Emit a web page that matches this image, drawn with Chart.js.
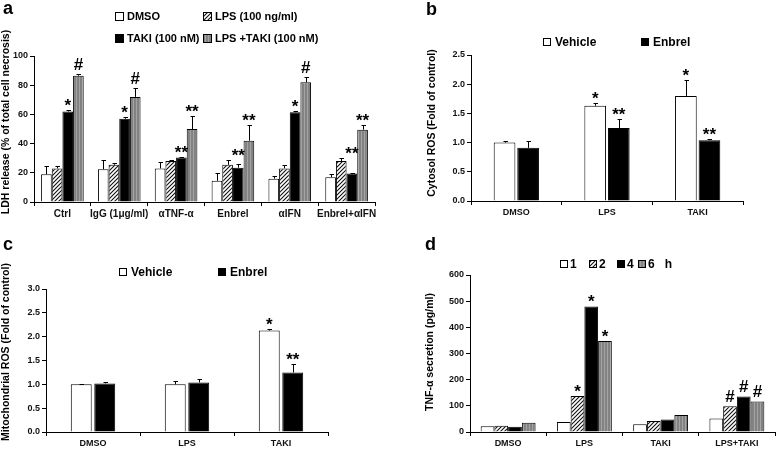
<!DOCTYPE html>
<html><head><meta charset="utf-8">
<script src="https://cdn.jsdelivr.net/npm/chart.js@4.4.1/dist/chart.umd.min.js"></script>
<style>
html,body{margin:0;padding:0;background:#fff;}
body{width:778px;height:453px;position:relative;overflow:hidden;}
.p{position:absolute;}
</style></head><body>
<div class="p" style="left:0;top:0"><canvas id="ca" width="390" height="230"></canvas></div>
<div class="p" style="left:390px;top:0"><canvas id="cb" width="388" height="230"></canvas></div>
<div class="p" style="left:0;top:230px"><canvas id="cc" width="390" height="223"></canvas></div>
<div class="p" style="left:390px;top:230px"><canvas id="cd" width="388" height="223"></canvas></div>
<script>
// ---------- Panel a data ----------
const catsA = ['Ctrl','IgG (1μg/ml)','αTNF-α','Enbrel','αIFN','Enbrel+αIFN'];
const aDMSO = [19,22.5,23,14.5,16,17];
const aDMSOErr = [6,6.5,4.5,5.5,1.5,2];
const aLPS = [23,25.5,28,25.5,23,28];
const aLPSErr = [1.5,1,1,3.5,2.5,2];
const aTAKI = [62,57,30.5,23.5,61.5,19.5];
const aTAKIErr = [1,1.5,0.5,2.5,0.5,0.5];
const aLT = [86.5,72,50,42,82,49.5];
const aLTErr = [1.5,6,9,11,3.5,3.5];
const aTAKIMarks = ['*','*','**','**','*','**'];
const aLTMarks = ['#','#','**','**','#','**'];
const aYTicks = [0,20,40,60,80,100];
// ---------- Panel b data ----------
const catsB = ['DMSO','LPS','TAKI'];
const bVeh = [1.0,1.63,1.80];
const bVehErr = [0.02,0.04,0.28];
const bEnb = [0.91,1.25,1.04];
const bEnbErr = [0.12,0.15,0.02];
const bVehMarks = ['','*','*'];
const bEnbMarks = ['','**','**'];
const bYTicks = [0,0.5,1.0,1.5,2.0,2.5];
// ---------- Panel c data ----------
const catsC = ['DMSO','LPS','TAKI'];
const cVeh = [1.0,1.0,2.13];
const cVehErr = [0.01,0.08,0.03];
const cEnb = [1.02,1.04,1.25];
const cEnbErr = [0.02,0.08,0.18];
const cVehMarks = ['','','*'];
const cEnbMarks = ['','','**'];
const cYTicks = [0,0.5,1.0,1.5,2.0,2.5,3.0];
// ---------- Panel d data ----------
const catsD = ['DMSO','LPS','TAKI','LPS+TAKI'];
const d1h = [22,38,30,52];
const d2h = [24,138,42,98];
const d4h = [20,480,48,136];
const d6h = [35,348,65,117];
const d2Marks = ['','*','','#'];
const d4Marks = ['','*','','#'];
const d6Marks = ['','*','','#'];
const dYTicks = [0,100,200,300,400,500,600];

const FAM = '"Liberation Sans", Arial, sans-serif';

function hatchPattern(){
  const c=document.createElement('canvas'); c.width=4; c.height=4;
  const x=c.getContext('2d');
  x.fillStyle='#fff'; x.fillRect(0,0,4,4);
  x.strokeStyle='#111'; x.lineWidth=1.1;
  x.beginPath();
  x.moveTo(-1,5); x.lineTo(5,-1);
  x.moveTo(-1,1); x.lineTo(1,-1);
  x.moveTo(3,5); x.lineTo(5,3);
  x.stroke();
  return x.createPattern(c,'repeat');
}
function stripePattern(){
  const c=document.createElement('canvas'); c.width=3; c.height=3;
  const x=c.getContext('2d');
  x.fillStyle='#828282'; x.fillRect(0,0,3,3);
  x.fillStyle='#a4a4a4'; x.fillRect(1,0,1,3);
  return x.createPattern(c,'repeat');
}
const HATCH = hatchPattern();
const STRIPE = stripePattern();

const deco = {
  id:'deco',
  afterDatasetsDraw(chart, args, o){
    const ctx=chart.ctx, ys=chart.scales.y;
    ctx.save();
    const tops=[];
    chart.data.datasets.forEach((ds,i)=>{
      const meta=chart.getDatasetMeta(i);
      tops[i]=[];
      meta.data.forEach((bar,j)=>{
        const v=ds.data[j], e=ds.errors?ds.errors[j]:0;
        const t=ys.getPixelForValue(v+e);
        tops[i][j]=t;
        if(e>0){
          const x=Math.round(bar.x)+0.5;
          ctx.strokeStyle='#000'; ctx.lineWidth=1;
          ctx.beginPath();
          ctx.moveTo(x,ys.getPixelForValue(v)); ctx.lineTo(x,Math.round(t)+0.5);
          ctx.moveTo(x-2,Math.round(t)+0.5); ctx.lineTo(x+2.5,Math.round(t)+0.5);
          ctx.stroke();
        }
      });
    });
    ctx.fillStyle='#000'; ctx.textAlign='center'; ctx.textBaseline='alphabetic';
    ctx.font='bold 17px '+FAM;
    chart.data.datasets.forEach((ds,i)=>{
      if(!ds.marks) return;
      const meta=chart.getDatasetMeta(i);
      meta.data.forEach((bar,j)=>{
        const m=ds.marks[j]; if(!m) return;
        let t=tops[i][j];
        if(ds.markWith!==undefined) t=Math.min(t,tops[ds.markWith][j]);
        const off = m.indexOf('#')>=0 ? 5 : 0;
        ctx.fillText(m, bar.x, t+1-off);
      });
    });
    // legend
    if(o.legend){
      ctx.textAlign='left'; ctx.textBaseline='middle';
      ctx.font='bold '+o.legend.size+'px '+FAM;
      chart.data.datasets.forEach((ds,i)=>{
        const it=o.legend.items[i], b=o.legend.box;
        ctx.fillStyle=ds.backgroundColor;
        ctx.fillRect(it[0],it[1],b,b);
        ctx.strokeStyle='#000'; ctx.lineWidth=1;
        ctx.strokeRect(it[0]+0.5,it[1]+0.5,b-1,b-1);
        ctx.fillStyle='#000';
        ctx.fillText(ds.label, it[0]+b+o.legend.gap, it[1]+b/2+0.5);
      });
    }
    // y title
    if(o.ytitle){
      ctx.save();
      ctx.translate(o.ytitle.x,o.ytitle.y);
      ctx.rotate(-Math.PI/2);
      ctx.textAlign='center'; ctx.textBaseline='middle';
      ctx.font='bold '+o.ytitle.size+'px '+FAM;
      ctx.fillStyle='#000';
      ctx.fillText(o.ytitle.text,0,0);
      ctx.restore();
    }
    // panel letter
    if(o.letter){
      ctx.textAlign='left'; ctx.textBaseline='alphabetic';
      ctx.font='bold 18px '+FAM; ctx.fillStyle='#000';
      ctx.fillText(o.letter.text,o.letter.x,o.letter.y);
    }
    ctx.restore();
  }
};

function opts(p){
  return {
    responsive:false, animation:false,
    layout:{padding:{left:0,top:p.top,right:p.right,bottom:0}},
    plugins:{legend:{display:false}, tooltip:{enabled:false}, deco:p.deco},
    datasets:{bar:{categoryPercentage:p.cat, barPercentage:p.bar, borderColor:'#000', borderWidth:1}},
    scales:{
      x:{
        afterFit(s){ s.height=p.xH; },
        ticks:{font:{family:FAM,size:p.xFont,weight:'bold'}, color:'#111', padding:2, maxRotation:0, minRotation:0, autoSkip:false},
        grid:{drawOnChartArea:false, tickLength:4, color:'#000', offset:true},
        border:{color:'#000', width:1}
      },
      y:{
        min:p.ticks[0], max:p.ticks[p.ticks.length-1],
        afterFit(s){ s.width=p.yW; },
        afterBuildTicks(s){ s.ticks=p.ticks.map(v=>({value:v})); },
        ticks:{font:{family:FAM,size:p.yFont,weight:'bold'}, color:'#111', padding:2,
               callback:v=>p.dec?Number(v).toFixed(p.dec):v},
        grid:{drawOnChartArea:false, tickLength:4, color:'#000'},
        border:{color:'#000', width:1}
      }
    }
  };
}

// Panel a
new Chart(document.getElementById('ca'),{
  type:'bar',
  data:{labels:catsA, datasets:[
    {label:'DMSO', data:aDMSO, errors:aDMSOErr, backgroundColor:'#fff'},
    {label:'LPS (100 ng/ml)', data:aLPS, errors:aLPSErr, backgroundColor:HATCH},
    {label:'TAKI (100 nM)', data:aTAKI, errors:aTAKIErr, backgroundColor:'#000', marks:aTAKIMarks, markWith:1},
    {label:'LPS +TAKI (100 nM)', data:aLT, errors:aLTErr, backgroundColor:STRIPE, marks:aLTMarks}
  ]},
  options:opts({top:56,right:15,xH:28,yW:34,cat:0.75,bar:1,xFont:10,yFont:9,dec:0,ticks:aYTicks,
    deco:{legend:{size:11,box:9,gap:3,items:[[115,12],[203,12],[115,34],[203,34]]},
          ytitle:{text:'LDH release (% of total cell necrosis)',x:6,y:122,size:10.5},
          letter:{text:'a',x:3,y:14}}}),
  plugins:[deco]
});

// Panel b
new Chart(document.getElementById('cb'),{
  type:'bar',
  data:{labels:catsB, datasets:[
    {label:'Vehicle', data:bVeh, errors:bVehErr, backgroundColor:'#fff', marks:bVehMarks},
    {label:'Enbrel', data:bEnb, errors:bEnbErr, backgroundColor:'#000', marks:bEnbMarks}
  ]},
  options:opts({top:55,right:35,xH:29,yW:81,cat:0.52,bar:0.92,xFont:9,yFont:9,dec:1,ticks:bYTicks,
    deco:{legend:{size:12,box:8,gap:4,items:[[153,38],[251,38]]},
          ytitle:{text:'Cytosol ROS (Fold of control)',x:42,y:123,size:10.5},
          letter:{text:'b',x:36,y:15}}}),
  plugins:[deco]
});

// Panel c
new Chart(document.getElementById('cc'),{
  type:'bar',
  data:{labels:catsC, datasets:[
    {label:'Vehicle', data:cVeh, errors:cVehErr, backgroundColor:'#fff', marks:cVehMarks},
    {label:'Enbrel', data:cEnb, errors:cEnbErr, backgroundColor:'#000', marks:cEnbMarks}
  ]},
  options:opts({top:59,right:62,xH:21,yW:46,cat:0.5,bar:0.89,xFont:9,yFont:9,dec:1,ticks:cYTicks,
    deco:{legend:{size:12,box:8,gap:4,items:[[119,38],[218,38]]},
          ytitle:{text:'Mitochondrial ROS (Fold of control)',x:6,y:122,size:10.5},
          letter:{text:'c',x:3,y:20}}}),
  plugins:[deco]
});

// Panel d
new Chart(document.getElementById('cd'),{
  type:'bar',
  data:{labels:catsD, datasets:[
    {label:'1', data:d1h, backgroundColor:'#fff'},
    {label:'2', data:d2h, backgroundColor:HATCH, marks:d2Marks},
    {label:'4', data:d4h, backgroundColor:'#000', marks:d4Marks},
    {label:'6   h', data:d6h, backgroundColor:STRIPE, marks:d6Marks}
  ]},
  options:opts({top:45,right:3,xH:21,yW:80,cat:0.72,bar:1,xFont:9,yFont:9,dec:0,ticks:dYTicks,
    deco:{legend:{size:12,box:8,gap:2,items:[[170,30],[199,30],[227,30],[248,30]]},
          ytitle:{text:'TNF-α secretion (pg/ml)',x:40,y:122,size:10.5},
          letter:{text:'d',x:35,y:20}}}),
  plugins:[deco]
});
</script>
</body></html>
